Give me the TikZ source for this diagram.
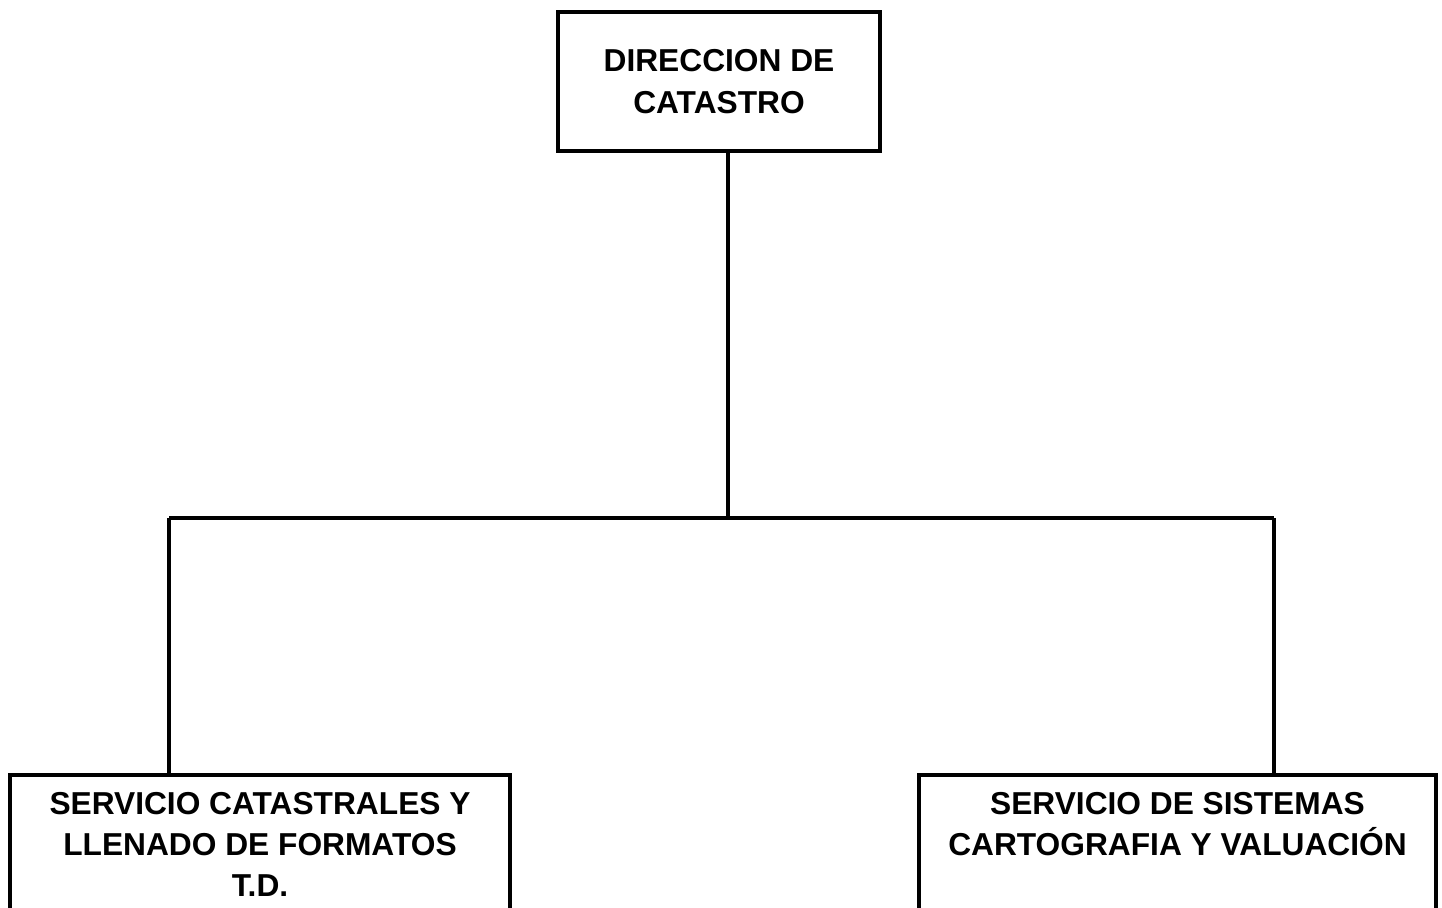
\documentclass[tikz,border=0pt]{standalone}
\usepackage{fontspec}
\setmainfont{Liberation Sans}
\usetikzlibrary{positioning}

\begin{document}
\begin{tikzpicture}[x=0.5pt,y=-0.5pt,line width=1.75pt,
  org node/.style={rectangle,draw,inner sep=0pt,align=center,
    font=\fontsize{15.85}{21}\selectfont\bfseries},
  unit box/.style={rectangle,draw,inner sep=0pt,anchor=north,minimum height=100pt},
  unit text/.style={inner sep=0pt,align=center,
    font=\fontsize{15.85}{20.4}\selectfont\bfseries}]
  \clip (0,0) rectangle (1442,907);
  \node[org node,minimum width=161pt,minimum height=69.5pt] (direccion) at (719,81.5)
    {DIRECCION DE\\CATASTRO};
  \node[unit box,minimum width=250pt] (servcat) at (260,773) {};
  \node[unit box,minimum width=258.5pt] (servsis) at (1177.5,773) {};
  \node[unit text,below=9pt of servcat.north] (servcatTxt)
    {SERVICIO CATASTRALES Y\\LLENADO DE FORMATOS\\T.D.};
  \node[unit text,below=9pt of servsis.north] (servsisTxt)
    {SERVICIO DE SISTEMAS\\CARTOGRAFIA Y VALUACIÓN};
  % lineas de mando
  \coordinate (bus) at (728,518);
  \coordinate (busL) at (169,518);
  \coordinate (busR) at (1274,518);
  \draw (direccion.south -| bus) -- (bus);
  \draw (busL) -- (busR);
  \draw (busL) -- (busL |- servcat.north);
  \draw (busR) -- (busR |- servsis.north);
\end{tikzpicture}
\end{document}
